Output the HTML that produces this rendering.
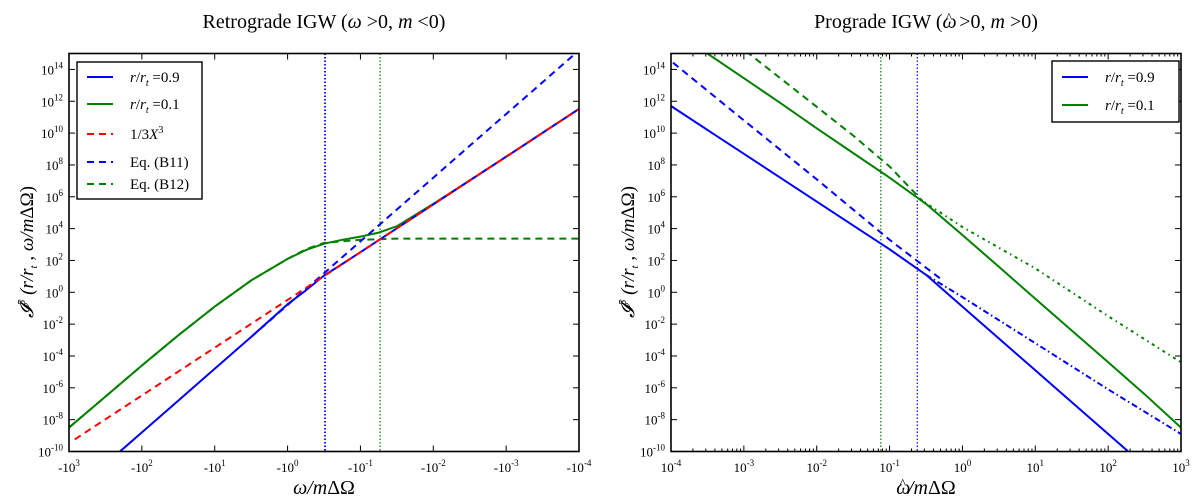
<!DOCTYPE html>
<html><head><meta charset="utf-8"><style>
body{margin:0;background:#fff}
svg{display:block;font-family:"Liberation Serif",serif}
</style></head><body>
<svg id="fig" width="1200" height="502" viewBox="0 0 1200 502" xmlns="http://www.w3.org/2000/svg">
<rect width="1200" height="502" fill="#fff"/>
<text x="324" y="28" font-size="20" text-anchor="middle">Retrograde IGW (<tspan font-style="italic">ω</tspan> &gt;0, <tspan font-style="italic">m</tspan> &lt;0)</text>
<text x="926" y="28" font-size="20" text-anchor="middle">Prograde IGW (<tspan font-style="italic">ω</tspan><tspan dx="-11" dy="-6" font-size="14">^</tspan><tspan dx="2" dy="6"> &gt;0, </tspan><tspan font-style="italic">m</tspan> &gt;0)</text>
<text x="324" y="494" font-size="20" text-anchor="middle" font-style="italic">ω/m<tspan font-style="normal">ΔΩ</tspan></text>
<text x="926" y="494" font-size="20" text-anchor="middle" font-style="italic">ω<tspan dx="-11" dy="-6" font-size="14" font-style="normal">^</tspan><tspan dx="2" dy="6">/m</tspan><tspan font-style="normal">ΔΩ</tspan></text>
<text transform="translate(33,252) rotate(-90)" font-size="19" text-anchor="middle" font-style="italic">𝓘<tspan font-size="11" dy="-8">5</tspan><tspan dy="8"> (r/r</tspan><tspan font-size="11" dy="4">t</tspan><tspan dy="-4"> , ω/m</tspan><tspan font-style="normal">ΔΩ)</tspan></text>
<text transform="translate(634,252) rotate(-90)" font-size="19" text-anchor="middle" font-style="italic">𝓘<tspan font-size="11" dy="-8">5</tspan><tspan dy="8"> (r/r</tspan><tspan font-size="11" dy="4">t</tspan><tspan dy="-4"> , ω/m</tspan><tspan font-style="normal">ΔΩ)</tspan></text>
<g id="left"></g><g id="right"></g>
</svg>
<script>
// ---- data (log10 values) ----
const yTicks = [14,12,10,8,6,4,2,0,-2,-4,-6,-8,-10];
const leftXTicks = [3,2,1,0,-1,-2,-3,-4];
const rightXTicks = [-4,-3,-2,-1,0,1,2,3];
// left panel: u = log10|omega|
const leftU = [3,2.5,2,1.5,1,0.5,0,-0.25,-0.5,-0.75,-1,-1.25,-1.5,-2,-2.5,-3,-3.5,-4];
const redU = [2.92,2.5,2,1.5,1,0.5,0,-0.5,-1,-1.5,-2,-2.5,-3,-3.5,-4];
const redLaw = [-9.24,-7.98,-6.48,-4.98,-3.48,-1.98,-0.48,1.02,2.52,4.02,5.52,7.02,8.52,10.02,11.52];
const blueSolidL = [-12.8,-10.8,-8.8,-6.8,-4.8,-2.8,-0.75,0.12,1.05,1.78,2.52,3.27,4.02,5.52,7.02,8.52,10.02,11.52];
const greenSolidL = [-8.5,-6.55,-4.6,-2.7,-0.9,0.75,2.1,2.65,3.05,3.3,3.5,3.75,4.15,5.55,7.02,8.52,10.02,11.52];
const blueDashU = [0.5,0,-0.5,-1,-1.5,-2,-2.5,-3,-3.5,-4];
const blueDashL = [-2.8,-0.8,1.2,3.2,5.2,7.2,9.2,11.2,13.2,15.2];
const greenDashU = [3,2.5,2,1.5,1,0.5,0,-0.25,-0.5,-1,-1.5,-4];
const greenDashL = [-8.5,-6.55,-4.6,-2.7,-0.9,0.75,2.1,2.7,3.1,3.3,3.37,3.37];
const leftVlines = [-0.514,-1.27];
// right panel: w = log10 omega-hat
const rightW = [-4,-3.5,-3,-2.5,-2,-1.5,-1,-0.5,0,0.5,1,1.5,2,2.5,3];
const blueSolidR = [11.7,10.2,8.7,7.2,5.7,4.2,2.7,1.1,-0.9,-2.9,-4.9,-6.9,-8.9,-10.9,-12.9];
const greenSolidR = [16.6,15.0,13.45,11.9,10.3,8.75,7.2,5.55,3.6,1.6,-0.4,-2.4,-4.4,-6.4,-8.5];
const blueDashW = [-4.1,-3,-2,-1,-0.3];
const blueDashR = [14.9,10.8,7.1,3.3,0.85];
const greenDashW = [-3.1,-2.5,-2,-1.5,-1,-0.55];
const greenDashR = [15.6,13.45,11.65,9.85,7.9,5.74];
const blueDDW = [-0.5,0,1,2,3];
const blueDDR = [1.1,-0.3,-3.2,-6.1,-8.9];
const greenDDW = [-0.6,0,1,2,3];
const greenDDR = [5.9,4.1,1.5,-1.5,-4.4];
const rightVlines = [-1.12,-0.62];

const NS="http://www.w3.org/2000/svg";
const Y0=451.5, DEC=15.92, XD=72.86;
const yS=v=>Y0-(v+10)*DEC;
const xL=u=>69+(3-u)*XD;
const xR=w=>671+(w+4)*XD;
const BLUE="#0000ff", GREEN="#008000", RED="#ff0000";
function mk(tag,attrs,parent){const e=document.createElementNS(NS,tag);for(const k in attrs)e.setAttribute(k,attrs[k]);parent.appendChild(e);return e;}
function line(parent,xs,ys,xf,color,dash,name,clip){
  const p=mk('polyline',{points:xs.map((x,i)=>xf(x).toFixed(1)+','+yS(ys[i]).toFixed(1)).join(' '),fill:'none',stroke:color,'stroke-width':2,'stroke-linejoin':'round','stroke-dasharray':dash||'none','clip-path':'url(#'+clip+')'},parent);
  
  
}
function panel(g,x0,clip,xf,xticks,neg,minor){
  const x1=x0+510;
  const defs=mk('defs',{},g);const cp=mk('clipPath',{id:clip},defs);mk('rect',{x:x0,y:53.5,width:510,height:398},cp);
  yTicks.forEach(v=>{
    const y=yS(v);
    mk('line',{x1:x0,y1:y,x2:x0+6,y2:y,stroke:'#000'},g);
    mk('line',{x1:x1,y1:y,x2:x1-6,y2:y,stroke:'#000'},g);
    const t=mk('text',{x:x0-6,y:y+5,'font-size':13,'text-anchor':'end'},g);
    
    
    t.textContent='10';const s=mk('tspan',{dy:-6,'font-size':9},t);s.textContent=String(v);
  });
  xticks.forEach(k=>{
    const x=xf(k);
    mk('line',{x1:x,y1:451.5,x2:x,y2:445.5,stroke:'#000'},g);
    mk('line',{x1:x,y1:53.5,x2:x,y2:59.5,stroke:'#000'},g);
    const t=mk('text',{x:x,y:472,'font-size':13,'text-anchor':'middle'},g);
    
    
    t.textContent=(neg?'-':'')+'10';const s=mk('tspan',{dy:-6,'font-size':9},t);s.textContent=String(k);
    if(minor&&k<xticks[xticks.length-1]){for(let m=2;m<10;m++){const xm=xf(k+Math.log10(m));
      mk('line',{x1:xm,y1:451.5,x2:xm,y2:448.5,stroke:'#000'},g);mk('line',{x1:xm,y1:53.5,x2:xm,y2:56.5,stroke:'#000'},g);}}
  });
}
const L=document.getElementById('left'), R=document.getElementById('right');


panel(L,69,'cl',xL,leftXTicks,true,false);
panel(R,671,'cr',xR,rightXTicks,false,true);
[[leftVlines[0],BLUE],[leftVlines[1],GREEN]].forEach(([u,c],i)=>{const l=mk('line',{x1:xL(u),y1:53.5,x2:xL(u),y2:451.5,stroke:c,'stroke-width':i?1.2:1.8,'stroke-dasharray':'1.5,2'},L);
 
 });
[[rightVlines[0],GREEN],[rightVlines[1],BLUE]].forEach(([w,c])=>{const l=mk('line',{x1:xR(w),y1:53.5,x2:xR(w),y2:451.5,stroke:c,'stroke-width':1.2,'stroke-dasharray':'1.5,2'},R);
 
 });
line(L,leftU,greenSolidL,xL,GREEN,null,'green-solid-left','cl');
line(L,greenDashU,greenDashL,xL,GREEN,'7,5','eq-b12-line','cl');
line(L,leftU,blueSolidL,xL,BLUE,null,'blue-solid-left','cl');
line(L,blueDashU,blueDashL,xL,BLUE,'7,5','eq-b11-line','cl');
line(L,redU,redLaw,xL,RED,'7,5','cubic-law-line','cl');
line(R,rightW,blueSolidR,xR,BLUE,null,'blue-solid-right','cr');
line(R,rightW,greenSolidR,xR,GREEN,null,'green-solid-right','cr');
line(R,blueDashW,blueDashR,xR,BLUE,'7,5','blue-dashed-right','cr');
line(R,greenDashW,greenDashR,xR,GREEN,'7,5','green-dashed-right','cr');
line(R,blueDDW,blueDDR,xR,BLUE,'6,3,1.5,3','blue-dashdot-right','cr');
line(R,greenDDW,greenDDR,xR,GREEN,'3,4,1.5,4','green-dashdot-right','cr');
[[L,69],[R,671]].forEach(([g,x0])=>{const f=mk('rect',{x:x0,y:53.5,width:510,height:398,fill:'none',stroke:'#000','stroke-width':1.6},g);
 
 });
function legend(g,x,y,w,h,items,name){
  const lg=mk('g',{},g);
  
  
  mk('rect',{x:x,y:y,width:w,height:h,fill:'#fff',stroke:'#000','stroke-width':1.4},lg);
  items.forEach(it=>{
    const e=mk('g',{},lg);
    
    
    mk('line',{x1:x+10,y1:it.y,x2:x+36,y2:it.y,stroke:it.c,'stroke-width':2,'stroke-dasharray':it.d||'none'},e);
    const t=mk('text',{x:x+53,y:it.y+5,'font-size':15},e);t.innerHTML=it.t;
  });
}
const rt1='<tspan font-style="italic">r</tspan>/<tspan font-style="italic">r</tspan><tspan font-size="10" dy="4" font-style="italic">t</tspan><tspan dy="-4"> =0.9</tspan>';
const rt2=rt1.replace('0.9','0.1');
legend(L,77,62,125,137,[
 {y:77,c:BLUE,t:rt1},{y:104,c:GREEN,t:rt2},
 {y:134,c:RED,d:'7,5',t:'1/3<tspan font-style="italic">X</tspan><tspan font-size="10" dy="-6">3</tspan>'},
 {y:162,c:BLUE,d:'7,5',t:'Eq. (B11)'},{y:184,c:GREEN,d:'7,5',t:'Eq. (B12)'}],'left-legend');
legend(R,1052,61,127,61,[{y:77,c:BLUE,t:rt1},{y:105,c:GREEN,t:rt2}],'right-legend');
</script>
</body></html>
